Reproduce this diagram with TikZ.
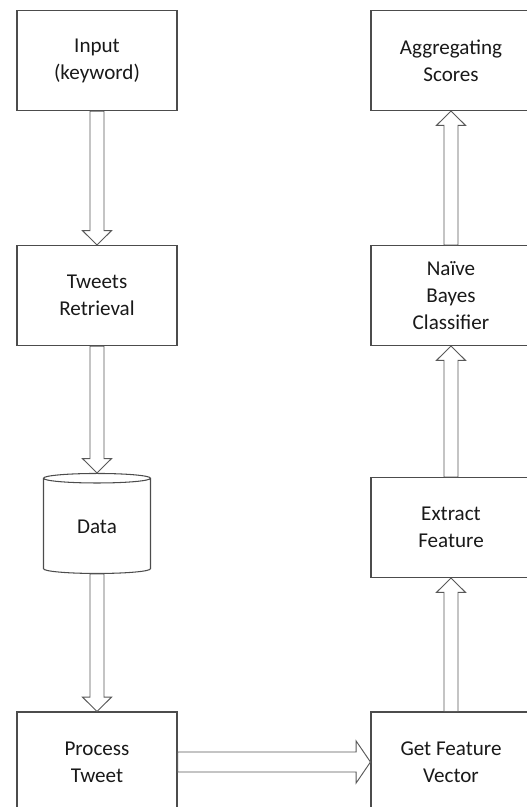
\documentclass[tikz,border=0pt]{standalone}
\usepackage{fontspec}
\setmainfont{Carlito}
\usetikzlibrary{calc}
\usetikzlibrary{shapes.geometric}

\tikzset{
  stage/.style={draw=black!70,line width=0.9pt,minimum width=4.8cm,minimum height=3cm,
    align=center,text=black!90,font=\fontsize{18}{23}\selectfont},
  hollow/.style 2 args={draw=black!65,line width=0.8pt,fill=white,
    to path={($(\tikztostart)!#1!90:(\tikztotarget)$)
      -- ($(\tikztotarget)!0.43cm!(\tikztostart)!#1!90:(\tikztotarget)$)
      -- ($(\tikztotarget)!0.43cm!(\tikztostart)!#2!90:(\tikztotarget)$)
      -- (\tikztotarget)
      -- ($(\tikztotarget)!0.43cm!(\tikztostart)!#2!-90:(\tikztotarget)$)
      -- ($(\tikztotarget)!0.43cm!(\tikztostart)!#1!-90:(\tikztotarget)$)
      -- ($(\tikztostart)!#1!-90:(\tikztotarget)$) -- cycle}}
}

\begin{document}
\begin{tikzpicture}[x=0.03cm,y=-0.03cm]
\useasboundingbox (0,0) rectangle (526,807);
% left column
\node[stage] (input) at (97,60.5) {Input\\(keyword)};
\node[stage] (tweets) at (97,295.5) {Tweets\\Retrieval};
\node[draw=black!70,line width=0.9pt,cylinder,shape border rotate=90,aspect=0.2,
  minimum width=3.21cm,minimum height=3cm,text=black!90,
  font=\fontsize{18}{23}\selectfont] (data) at (97,527) {Data};
\node[stage] (process) at (97,762) {Process\\Tweet};
% right column
\node[stage] (score) at (451,60.5) {Aggregating\\Scores};
\node[stage] (bayes) at (451,295.5) {Naïve\\Bayes\\Classifier};
\node[stage] (extract) at (451,527.5) {Extract\\Feature};
\node[stage] (vector) at (451,762) {Get Feature\\Vector};

\draw[hollow={0.21cm}{0.435cm}] (input.south) to (tweets.north);
\draw[hollow={0.21cm}{0.435cm}] (tweets.south) to (data.top);
\draw[hollow={0.21cm}{0.435cm}] (data.bottom) to (process.north);
\draw[hollow={0.3cm}{0.63cm}] (process.east) to (vector.west);
\draw[hollow={0.21cm}{0.435cm}] (vector.north) to (extract.south);
\draw[hollow={0.21cm}{0.435cm}] (extract.north) to (bayes.south);
\draw[hollow={0.21cm}{0.435cm}] (bayes.north) to (score.south);

\end{tikzpicture}
\end{document}
